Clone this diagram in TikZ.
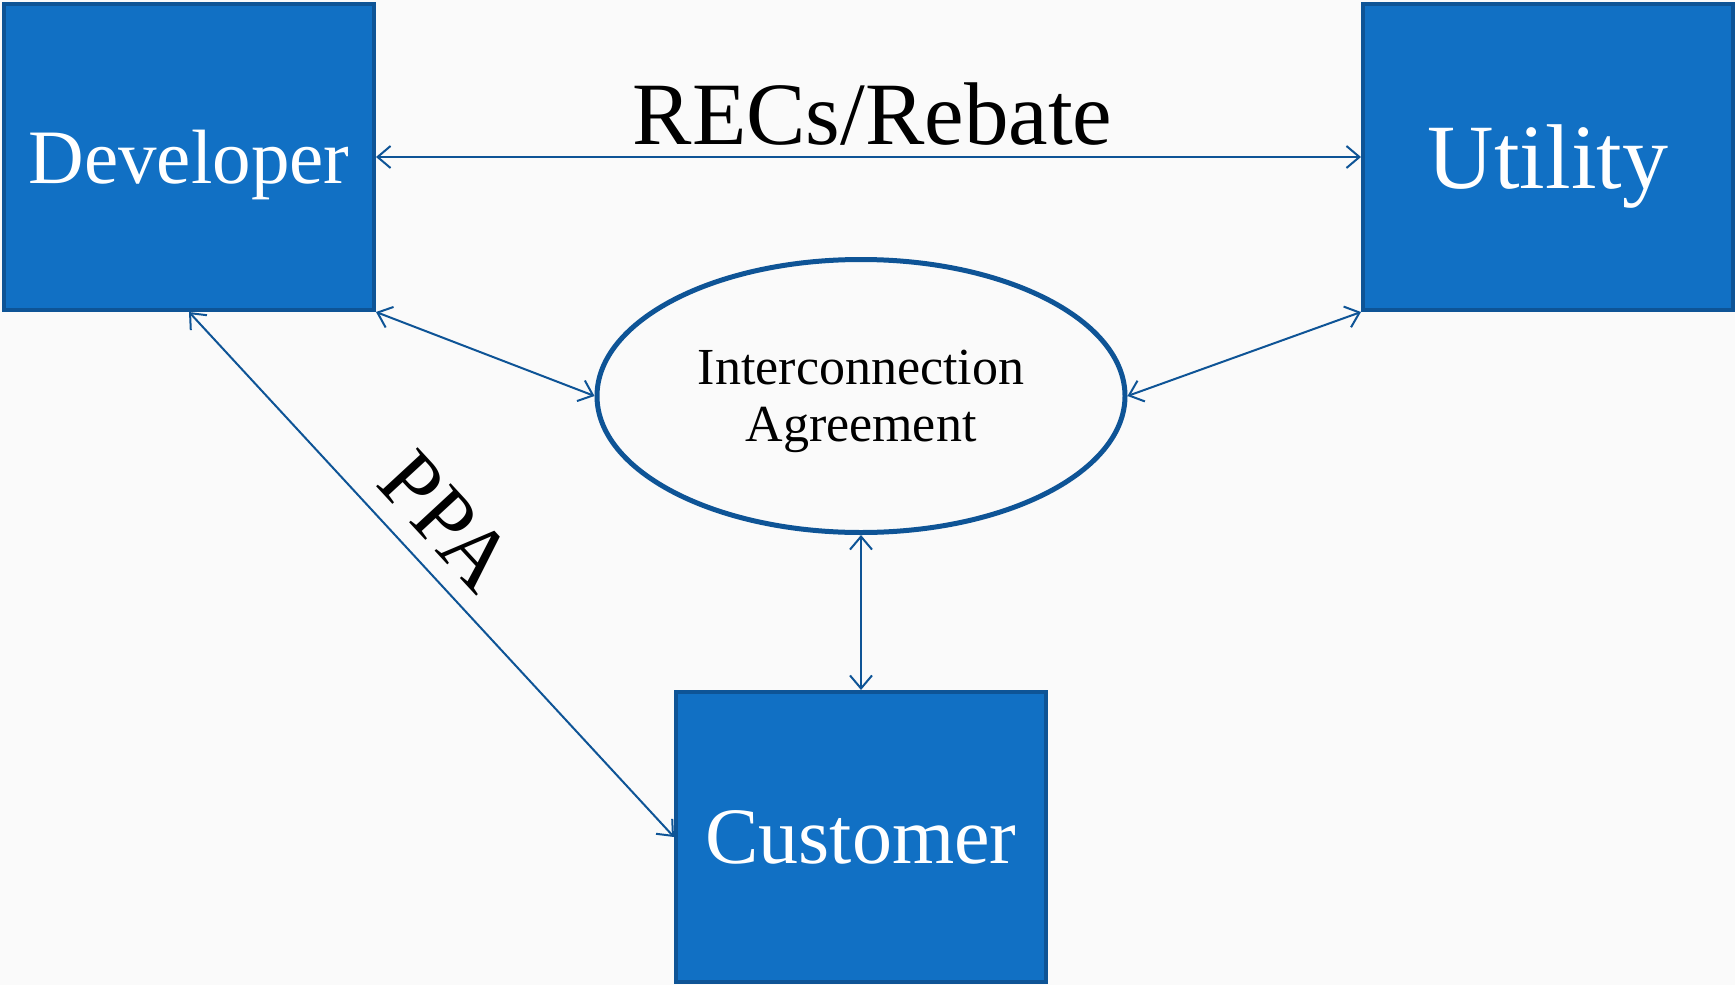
\documentclass[tikz,border=0pt]{standalone}
\usepackage{fontspec}
\setmainfont{Liberation Serif}
\usepackage{xcolor}
\usepackage{tikz}
\usetikzlibrary{shapes.geometric,arrows.meta,positioning}

\definecolor{boxfill}{RGB}{17,112,196}
\definecolor{boxedge}{RGB}{14,84,150}
\definecolor{pagebg}{RGB}{250,250,250}

\begin{document}
\begin{tikzpicture}[
    x=1pt, y=-1pt,
    party/.style={rectangle, draw=boxedge, fill=boxfill, line width=4pt, text=white, inner sep=0pt, text depth=0pt},
    agreement/.style={ellipse, draw=boxedge, line width=5pt, inner sep=0pt, align=center, text depth=0pt,
        minimum width=528pt, minimum height=273pt, font=\fontsize{52}{57}\selectfont},
    link/.style={{Straight Barb[length=13pt,width=22pt]}-{Straight Barb[length=13pt,width=22pt]}, draw=boxedge, line width=2pt}
]

% page
\fill[pagebg] (0,0) rectangle (1735,985);
\useasboundingbox (0,0) rectangle (1735,985);

% Parties
\node[party, minimum width=370pt, minimum height=306pt, font=\fontsize{77}{80}\selectfont] (dev) at (189,157) {Developer};
\node[party, minimum width=370pt, minimum height=306pt, font=\fontsize{92}{96}\selectfont] (util) at (1548,157) {Utility};
\node[party, minimum width=370pt, minimum height=290pt, font=\fontsize{80}{84}\selectfont] (cust) at (861,837) {Customer};

% Interconnection agreement
\node[agreement] (ia) at (861,396) {Interconnection\\Agreement};

% Links
\draw[link] (dev.east) -- node[anchor=base, yshift=13pt, xshift=4pt, font=\fontsize{89}{92}\selectfont] (recs) {RECs/Rebate} (util.west);
\draw[link] (dev.south east) -- (ia.west);
\draw[link] (util.south west) -- (ia.east);
\draw[link] (ia.south) -- (cust.north);
\draw[link] (dev.south) -- node[pos=0.46, sloped, above, inner sep=18pt, font=\fontsize{87}{90}\selectfont] (ppa) {PPA} (cust.west);

\end{tikzpicture}
\end{document}
